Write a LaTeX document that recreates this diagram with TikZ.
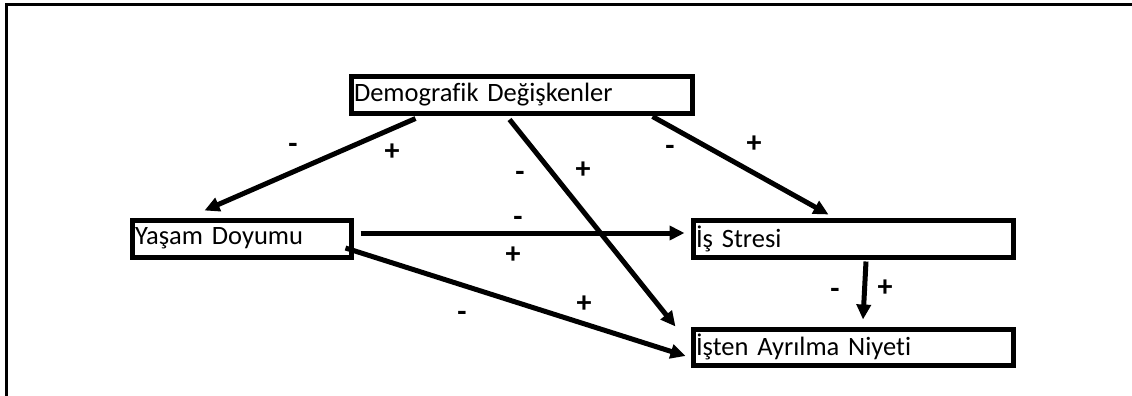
\documentclass[tikz,border=0pt]{standalone}
\usepackage{fontspec}
\setmainfont{Carlito}[Ligatures=CommonOff]
\usepackage{tikz}
\usetikzlibrary{positioning, arrows.meta}

\begin{document}
\begin{tikzpicture}[x=1pt, y=-1pt,
    varbox/.style={draw, line width=5pt, minimum height=37pt, inner xsep=3pt,
                   align=left, font=\fontsize{26.5}{31}\selectfont},
    link/.style={line width=5pt, -{Triangle[length=15pt,width=14pt]}},
    sign/.style={font=\fontsize{30}{35}\selectfont\bfseries, inner sep=0pt,
                 text height=0.6em, text depth=0pt, yshift=-5pt}]
  \useasboundingbox (0,0) rectangle (1132,396);
  % frame
  \draw[line width=3pt] (6,396) -- (6,5) -- (1132,5);

  % variables
  \node[varbox, minimum width=341pt, text width=335pt] (demo) at (521.5,94.5) {Demografik Değişkenler};
  \node[varbox, minimum width=219pt, text width=213pt] (yasam) at (241.5,238.5) {Yaşam Doyumu};
  \node[varbox, minimum width=320pt, text width=314pt] (stres) at (853,238.5) {İş Stresi};
  \node[varbox, minimum width=320pt, minimum height=36pt, text width=314pt] (niyet) at (853,347) {İşten Ayrılma Niyeti};

  % paths
  \draw[link] ([xshift=67pt,yshift=-3pt]demo.south west) -- ([xshift=75pt,yshift=7pt]yasam.north west);
  \draw[link] ([xshift=161pt,yshift=-4pt]demo.south west) -- ([xshift=-15pt]niyet.north west);
  \draw[link] ([xshift=304pt,yshift=-1pt]demo.south west) -- ([xshift=138pt,yshift=3pt]stres.north west);
  \draw[link] ([xshift=7pt,yshift=5.5pt]yasam.east) -- ([xshift=-6pt,yshift=5.5pt]stres.west);
  \draw[link] ([xshift=-8pt,yshift=-9.5pt]yasam.east) -- ([xshift=-5pt,yshift=-9pt]niyet.west);
  \draw[link] ([xshift=13pt,yshift=-2pt]stres.south) -- ([xshift=10pt,yshift=7pt]niyet.north);

  % signs
  \node[sign] (s1m) at (293,145) {-};
  \node[sign] (s1p) at (392,152) {+};
  \node[sign] (s2m) at (520,173) {-};
  \node[sign] (s2p) at (583,170) {+};
  \node[sign] (s3m) at (670,147) {-};
  \node[sign] (s3p) at (754,144) {+};
  \node[sign] (s4m) at (518,218) {-};
  \node[sign] (s4p) at (513,255) {+};
  \node[sign] (s5m) at (462,313) {-};
  \node[sign] (s5p) at (584,304) {+};
  \node[sign] (s6m) at (835,290) {-};
  \node[sign] (s6p) at (885,288) {+};
\end{tikzpicture}
\end{document}
